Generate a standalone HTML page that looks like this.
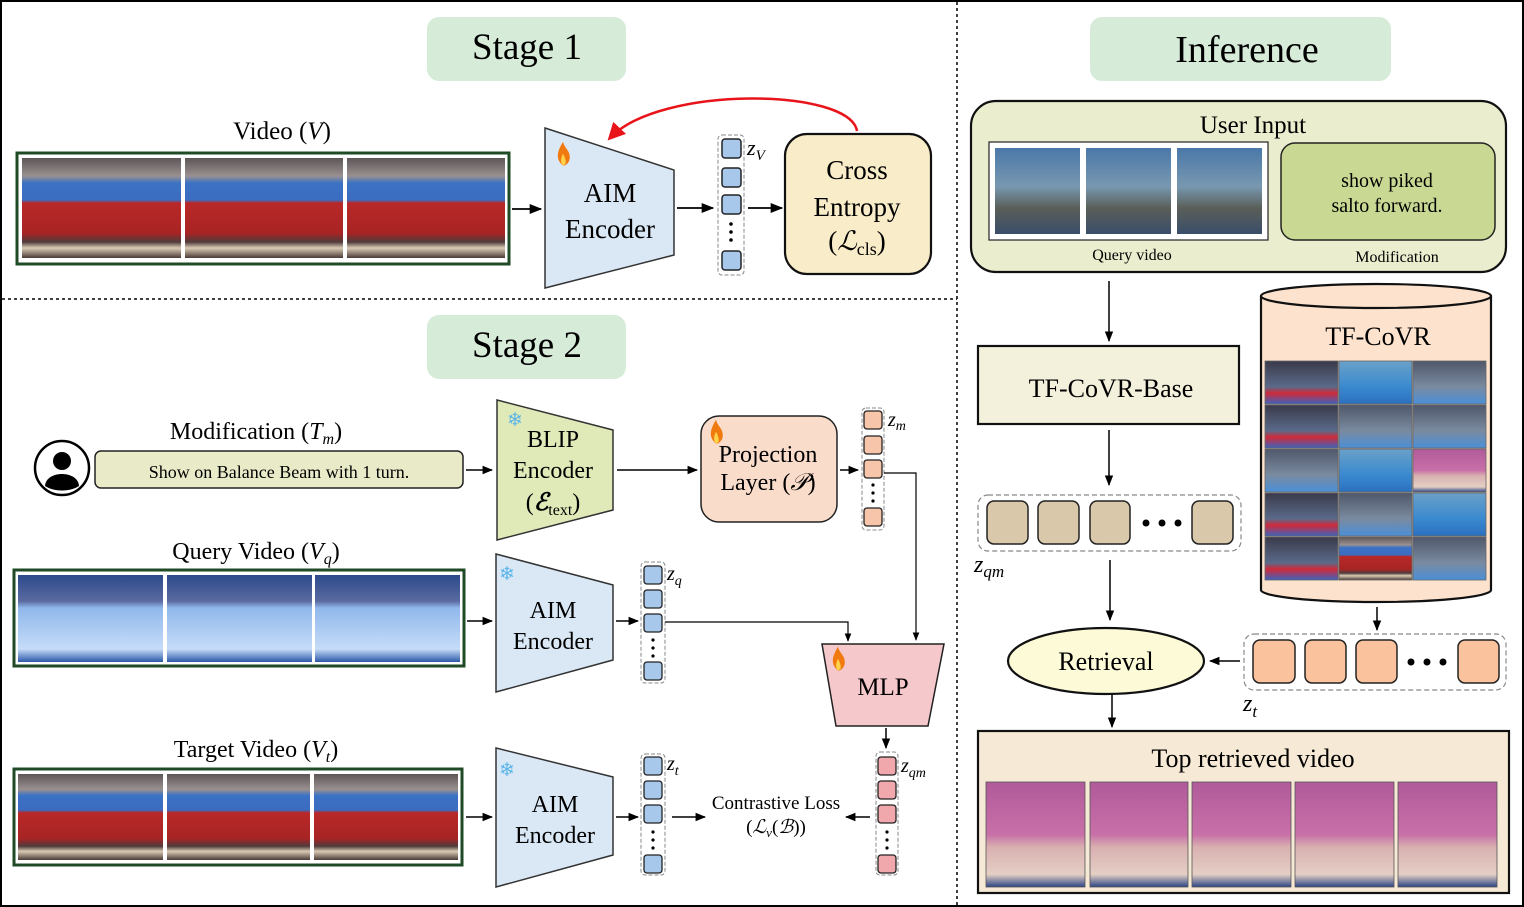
<!DOCTYPE html>
<html><head><meta charset="utf-8"><style>
html,body{margin:0;padding:0;background:#fff;}
svg{display:block;font-family:"Liberation Serif","DejaVu Serif",serif;}
</style></head><body>
<svg width="1524" height="907" viewBox="0 0 1524 907" xmlns="http://www.w3.org/2000/svg">
<defs>
<marker id="ar" viewBox="0 0 10 10" refX="9" refY="5" markerWidth="7" markerHeight="7" orient="auto"><path d="M0,1 L10,5 L0,9 z" fill="#000"/></marker>
<marker id="arr" viewBox="0 0 10 10" refX="8" refY="5" markerWidth="7" markerHeight="7" orient="auto"><path d="M0,0 L10,5 L0,10 z" fill="#e8141a"/></marker>
<linearGradient id="beam" x1="0" y1="0" x2="0" y2="1"><stop offset="0" stop-color="#5d5658"/><stop offset=".18" stop-color="#9a9090"/><stop offset=".25" stop-color="#3b72c4"/><stop offset=".42" stop-color="#3b6cc0"/><stop offset=".45" stop-color="#b92828"/><stop offset=".75" stop-color="#a82424"/><stop offset=".84" stop-color="#503c3c"/><stop offset=".9" stop-color="#d9cbb4"/><stop offset="1" stop-color="#4a3a36"/></linearGradient>
<linearGradient id="floor" x1="0" y1="0" x2="0" y2="1"><stop offset="0" stop-color="#2c4a8c"/><stop offset=".3" stop-color="#5a6aa0"/><stop offset=".38" stop-color="#90b8ec"/><stop offset=".85" stop-color="#c6dcf8"/><stop offset="1" stop-color="#2b58a8"/></linearGradient>
<linearGradient id="dive" x1="0" y1="0" x2="0" y2="1"><stop offset="0" stop-color="#4a78a8"/><stop offset=".45" stop-color="#7898b0"/><stop offset=".7" stop-color="#5a5e58"/><stop offset="1" stop-color="#3a4e6a"/></linearGradient>
<linearGradient id="pink" x1="0" y1="0" x2="0" y2="1"><stop offset="0" stop-color="#b05a9a"/><stop offset=".5" stop-color="#c870a8"/><stop offset=".62" stop-color="#d8b0b0"/><stop offset=".88" stop-color="#e4cfc4"/><stop offset="1" stop-color="#2c4486"/></linearGradient>
<linearGradient id="g2" x1="0" y1="0" x2="0" y2="1"><stop offset="0" stop-color="#3a3a4a"/><stop offset=".6" stop-color="#5a6a8a"/><stop offset=".75" stop-color="#d02a3a"/><stop offset="1" stop-color="#3a64c0"/></linearGradient>
<linearGradient id="g3" x1="0" y1="0" x2="0" y2="1"><stop offset="0" stop-color="#6aa0c8"/><stop offset=".6" stop-color="#3a8ad0"/><stop offset="1" stop-color="#2a70c0"/></linearGradient>
<linearGradient id="g4" x1="0" y1="0" x2="0" y2="1"><stop offset="0" stop-color="#50586a"/><stop offset=".6" stop-color="#7a8aa0"/><stop offset="1" stop-color="#4a90d8"/></linearGradient>
<g id="fire"><g transform="scale(1.7)"><path d="M0,8 C-5,4 -3,-1 0,-6 C1,-2 4,-1 4,3 C4,6 2,8 0,8 z" fill="#f07a10"/><path d="M0,8 C-2,6 -1,3 0,1 C1,3 2,5 1.5,7 z" fill="#ffd24a"/></g></g>
</defs>

<rect x="1" y="1" width="1522" height="905" fill="#fff" stroke="#000" stroke-width="2"/>
<line x1="957" y1="2" x2="957" y2="905" stroke="#000" stroke-width="1.5" stroke-dasharray="3,3"/>
<line x1="2" y1="299" x2="957" y2="299" stroke="#000" stroke-width="1.5" stroke-dasharray="3,3"/>

<rect x="427" y="17" width="199" height="64" rx="12" fill="#d7ebd9"/>
<text x="527" y="59" font-size="37" text-anchor="middle">Stage 1</text>
<text x="282" y="139" font-size="25" text-anchor="middle">Video (<tspan font-style="italic">V</tspan>)</text>
<rect x="17" y="153" width="492" height="111" fill="#fff" stroke="#1f4a26" stroke-width="3"/>
<rect x="22" y="158" width="159" height="100" fill="url(#beam)"/>
<rect x="185" y="158" width="158" height="100" fill="url(#beam)"/>
<rect x="347" y="158" width="158" height="100" fill="url(#beam)"/>
<line x1="512" y1="209" x2="541" y2="209" stroke="#000" stroke-width="1.8" marker-end="url(#ar)"/>
<polygon points="545,128 674,170 674,255 545,288" fill="#dae8f6" stroke="#333" stroke-width="1.5"/>
<use href="#fire" x="563" y="152"/>
<text x="610" y="202" font-size="27" text-anchor="middle">AIM</text>
<text x="610" y="238" font-size="27" text-anchor="middle">Encoder</text>
<line x1="677" y1="208" x2="713" y2="208" stroke="#000" stroke-width="1.8" marker-end="url(#ar)"/>
<rect x="718" y="135" width="26" height="140" rx="4" fill="none" stroke="#888" stroke-dasharray="4,2"/>
<g fill="#a7c8ea" stroke="#222" stroke-width="1.5">
<rect x="722" y="139" width="19" height="19" rx="3"/><rect x="722" y="168" width="19" height="19" rx="3"/><rect x="722" y="195" width="19" height="19" rx="3"/><rect x="722" y="251" width="19" height="19" rx="3"/></g>
<g fill="#000"><circle cx="731" cy="224" r="1.8"/><circle cx="731" cy="232" r="1.8"/><circle cx="731" cy="240" r="1.8"/></g>
<text x="747" y="155" font-size="22" font-style="italic">z<tspan font-size="15" dy="5">V</tspan></text>
<line x1="748" y1="208" x2="782" y2="208" stroke="#000" stroke-width="1.8" marker-end="url(#ar)"/>
<rect x="785" y="134" width="146" height="140" rx="22" fill="#f9ecc9" stroke="#111" stroke-width="2.2"/>
<text x="857" y="179" font-size="27" text-anchor="middle">Cross</text>
<text x="857" y="216" font-size="27" text-anchor="middle">Entropy</text>
<text x="857" y="250" font-size="27" text-anchor="middle">(<tspan font-style="italic">ℒ</tspan><tspan font-size="18" dy="5">cls</tspan><tspan dy="-5">)</tspan></text>
<path d="M857,131 C850,88 660,85 610,138" fill="none" stroke="#e8141a" stroke-width="2.5" marker-end="url(#arr)"/>

<rect x="427" y="315" width="199" height="64" rx="12" fill="#d7ebd9"/>
<text x="527" y="357" font-size="37" text-anchor="middle">Stage 2</text>
<text x="256" y="439" font-size="24" text-anchor="middle">Modification (<tspan font-style="italic">T</tspan><tspan font-style="italic" font-size="16" dy="5">m</tspan><tspan dy="-5">)</tspan></text>
<circle cx="62" cy="468" r="27" fill="#fff" stroke="#000" stroke-width="2.5"/>
<circle cx="62" cy="461" r="9" fill="#000"/>
<path d="M45,486 C46,470 78,470 79,486 C70,492 54,492 45,486 z" fill="#000"/>
<rect x="95" y="451" width="368" height="37" rx="6" fill="#e9ebc8" stroke="#222" stroke-width="1.5"/>
<text x="279" y="478" font-size="18" text-anchor="middle">Show on Balance Beam with 1 turn.</text>
<line x1="466" y1="470" x2="492" y2="470" stroke="#000" stroke-width="1.5" marker-end="url(#ar)"/>
<polygon points="497,400 613,430 613,510 497,540" fill="#e0eab9" stroke="#333" stroke-width="1.5"/>
<text x="507" y="426" font-size="19" fill="#5ab4e8">❄</text>
<text x="553" y="447" font-size="24" text-anchor="middle">BLIP</text>
<text x="553" y="478" font-size="24" text-anchor="middle">Encoder</text>
<text x="553" y="510" font-size="24" text-anchor="middle">(<tspan font-style="italic" font-weight="bold">ℰ</tspan><tspan font-size="16" dy="5">text</tspan><tspan dy="-5">)</tspan></text>
<line x1="617" y1="470" x2="697" y2="470" stroke="#000" stroke-width="1.5" marker-end="url(#ar)"/>
<rect x="701" y="416" width="136" height="106" rx="18" fill="#fadccb" stroke="#222" stroke-width="1.5"/>
<use href="#fire" x="716" y="430"/>
<text x="768" y="462" font-size="24" text-anchor="middle">Projection</text>
<text x="768" y="490" font-size="24" text-anchor="middle">Layer (<tspan font-style="italic">𝒫</tspan>)</text>
<line x1="840" y1="470" x2="858" y2="470" stroke="#000" stroke-width="1.5" marker-end="url(#ar)"/>
<rect x="862" y="408" width="22" height="122" rx="4" fill="none" stroke="#888" stroke-dasharray="4,2"/>
<g fill="#f7c6aa" stroke="#222" stroke-width="1.3">
<rect x="864" y="411" width="18" height="18" rx="3"/><rect x="864" y="436" width="18" height="18" rx="3"/><rect x="864" y="460" width="18" height="18" rx="3"/><rect x="864" y="508" width="18" height="18" rx="3"/></g>
<g fill="#000"><circle cx="873" cy="485" r="1.6"/><circle cx="873" cy="493" r="1.6"/><circle cx="873" cy="501" r="1.6"/></g>
<text x="888" y="426" font-size="20" font-style="italic">z<tspan font-size="14" dy="4">m</tspan></text>
<polyline points="884,473 916,473 916,640" fill="none" stroke="#000" stroke-width="1.2" marker-end="url(#ar)"/>

<text x="256" y="559" font-size="24" text-anchor="middle">Query Video (<tspan font-style="italic">V</tspan><tspan font-style="italic" font-size="16" dy="5">q</tspan><tspan dy="-5">)</tspan></text>
<rect x="14" y="570" width="450" height="96" fill="#fff" stroke="#1f4a26" stroke-width="3"/>
<rect x="18" y="575" width="145" height="87" fill="url(#floor)"/>
<rect x="167" y="575" width="145" height="87" fill="url(#floor)"/>
<rect x="315" y="575" width="145" height="87" fill="url(#floor)"/>
<line x1="467" y1="621" x2="492" y2="621" stroke="#000" stroke-width="1.5" marker-end="url(#ar)"/>
<polygon points="496,554 613,585 613,660 496,692" fill="#dae8f6" stroke="#333" stroke-width="1.5"/>
<text x="499" y="580" font-size="19" fill="#5ab4e8">❄</text>
<text x="553" y="618" font-size="24" text-anchor="middle">AIM</text>
<text x="553" y="649" font-size="24" text-anchor="middle">Encoder</text>
<line x1="616" y1="621" x2="638" y2="621" stroke="#000" stroke-width="1.5" marker-end="url(#ar)"/>
<rect x="641" y="562" width="24" height="121" rx="4" fill="none" stroke="#888" stroke-dasharray="4,2"/>
<g fill="#a7c8ea" stroke="#222" stroke-width="1.3">
<rect x="644" y="566" width="18" height="18" rx="3"/><rect x="644" y="590" width="18" height="18" rx="3"/><rect x="644" y="614" width="18" height="18" rx="3"/><rect x="644" y="662" width="18" height="18" rx="3"/></g>
<g fill="#000"><circle cx="653" cy="640" r="1.6"/><circle cx="653" cy="648" r="1.6"/><circle cx="653" cy="656" r="1.6"/></g>
<text x="667" y="580" font-size="20" font-style="italic">z<tspan font-size="14" dy="5">q</tspan></text>
<polyline points="665,622 848,622 848,641" fill="none" stroke="#000" stroke-width="1.2" marker-end="url(#ar)"/>
<polygon points="822,644 944,644 928,726 836,726" fill="#f5c8cc" stroke="#222" stroke-width="1.5"/>
<use href="#fire" x="838" y="657"/>
<text x="883" y="695" font-size="25" text-anchor="middle">MLP</text>
<line x1="886" y1="728" x2="886" y2="748" stroke="#000" stroke-width="1.5" marker-end="url(#ar)"/>

<text x="256" y="757" font-size="24" text-anchor="middle">Target Video (<tspan font-style="italic">V</tspan><tspan font-style="italic" font-size="16" dy="5">t</tspan><tspan dy="-5">)</tspan></text>
<rect x="14" y="769" width="448" height="96" fill="#fff" stroke="#1f4a26" stroke-width="3"/>
<rect x="18" y="774" width="145" height="86" fill="url(#beam)"/>
<rect x="167" y="774" width="143" height="86" fill="url(#beam)"/>
<rect x="314" y="774" width="144" height="86" fill="url(#beam)"/>
<line x1="466" y1="817" x2="492" y2="817" stroke="#000" stroke-width="1.5" marker-end="url(#ar)"/>
<polygon points="496,748 613,777 613,855 496,887" fill="#dae8f6" stroke="#333" stroke-width="1.5"/>
<text x="499" y="776" font-size="19" fill="#5ab4e8">❄</text>
<text x="555" y="812" font-size="24" text-anchor="middle">AIM</text>
<text x="555" y="843" font-size="24" text-anchor="middle">Encoder</text>
<line x1="616" y1="817" x2="638" y2="817" stroke="#000" stroke-width="1.5" marker-end="url(#ar)"/>
<rect x="641" y="754" width="24" height="121" rx="4" fill="none" stroke="#888" stroke-dasharray="4,2"/>
<g fill="#a7c8ea" stroke="#222" stroke-width="1.3">
<rect x="644" y="757" width="18" height="18" rx="3"/><rect x="644" y="781" width="18" height="18" rx="3"/><rect x="644" y="805" width="18" height="18" rx="3"/><rect x="644" y="855" width="18" height="18" rx="3"/></g>
<g fill="#000"><circle cx="653" cy="832" r="1.6"/><circle cx="653" cy="840" r="1.6"/><circle cx="653" cy="848" r="1.6"/></g>
<text x="667" y="770" font-size="20" font-style="italic">z<tspan font-size="14" dy="5">t</tspan></text>
<line x1="672" y1="817" x2="705" y2="817" stroke="#000" stroke-width="1.5" marker-end="url(#ar)"/>
<text x="776" y="809" font-size="19" text-anchor="middle">Contrastive Loss</text>
<text x="776" y="833" font-size="19" text-anchor="middle">(<tspan font-style="italic">ℒ</tspan><tspan font-style="italic" font-size="13" dy="4">v</tspan><tspan dy="-4">(</tspan><tspan font-style="italic">ℬ</tspan>))</text>
<line x1="870" y1="817" x2="846" y2="817" stroke="#000" stroke-width="1.5" marker-end="url(#ar)"/>
<rect x="876" y="752" width="22" height="123" rx="4" fill="none" stroke="#888" stroke-dasharray="4,2"/>
<g fill="#f0a8ac" stroke="#222" stroke-width="1.3">
<rect x="878" y="757" width="18" height="18" rx="3"/><rect x="878" y="781" width="18" height="18" rx="3"/><rect x="878" y="805" width="18" height="18" rx="3"/><rect x="878" y="855" width="18" height="18" rx="3"/></g>
<g fill="#000"><circle cx="887" cy="832" r="1.6"/><circle cx="887" cy="840" r="1.6"/><circle cx="887" cy="848" r="1.6"/></g>
<text x="901" y="772" font-size="20" font-style="italic">z<tspan font-size="14" dy="5">qm</tspan></text>

<rect x="1090" y="17" width="301" height="64" rx="12" fill="#d7ebd9"/>
<text x="1247" y="62" font-size="38" text-anchor="middle">Inference</text>
<rect x="971" y="101" width="535" height="171" rx="25" fill="#eaedce" stroke="#111" stroke-width="2.2"/>
<text x="1253" y="133" font-size="25" text-anchor="middle">User Input</text>
<rect x="989" y="142" width="279" height="98" fill="#fff" stroke="#222" stroke-width="1.2"/>
<rect x="995" y="148" width="85" height="86" fill="url(#dive)"/>
<rect x="1086" y="148" width="85" height="86" fill="url(#dive)"/>
<rect x="1177" y="148" width="85" height="86" fill="url(#dive)"/>
<text x="1132" y="260" font-size="16" text-anchor="middle">Query video</text>
<rect x="1281" y="143" width="214" height="97" rx="14" fill="#c9d893" stroke="#222" stroke-width="1.5"/>
<text x="1387" y="187" font-size="20" text-anchor="middle">show piked</text>
<text x="1387" y="212" font-size="20" text-anchor="middle">salto forward.</text>
<text x="1397" y="262" font-size="16" text-anchor="middle">Modification</text>
<line x1="1109" y1="281" x2="1109" y2="341" stroke="#000" stroke-width="1.5" marker-end="url(#ar)"/>
<rect x="978" y="346" width="261" height="78" fill="#f3f1dc" stroke="#111" stroke-width="2.2"/>
<text x="1111" y="397" font-size="26" text-anchor="middle">TF-CoVR-Base</text>
<line x1="1109" y1="430" x2="1109" y2="485" stroke="#000" stroke-width="1.5" marker-end="url(#ar)"/>
<rect x="978" y="495" width="263" height="56" rx="10" fill="none" stroke="#888" stroke-width="1.2" stroke-dasharray="5,3"/>
<g fill="#d9c9aa" stroke="#222" stroke-width="1.5">
<rect x="987" y="501" width="41" height="43" rx="7"/><rect x="1038" y="501" width="41" height="43" rx="7"/><rect x="1090" y="501" width="40" height="43" rx="7"/><rect x="1192" y="501" width="41" height="43" rx="7"/></g>
<g fill="#000"><circle cx="1146" cy="523" r="3.5"/><circle cx="1162" cy="523" r="3.5"/><circle cx="1178" cy="523" r="3.5"/></g>
<text x="974" y="572" font-size="24" font-style="italic">z<tspan font-size="17" dy="5">qm</tspan></text>
<line x1="1110" y1="560" x2="1110" y2="620" stroke="#000" stroke-width="1.5" marker-end="url(#ar)"/>
<ellipse cx="1106" cy="661" rx="98" ry="33" fill="#fdfad8" stroke="#111" stroke-width="2.2"/>
<text x="1106" y="670" font-size="26" text-anchor="middle">Retrieval</text>
<line x1="1240" y1="661" x2="1210" y2="661" stroke="#000" stroke-width="1.5" marker-end="url(#ar)"/>
<path d="M1261,296 L1261,590 A115,12 0 0 0 1491,590 L1491,296" fill="#fde2cd" stroke="#111" stroke-width="2.2"/>
<ellipse cx="1376" cy="296" rx="115" ry="12" fill="#fde2cd" stroke="#111" stroke-width="2.2"/>
<text x="1378" y="345" font-size="26" text-anchor="middle">TF-CoVR</text>
<g stroke="#666" stroke-width="0.8">
<rect x="1265" y="361" width="73" height="43" fill="url(#g2)"/><rect x="1339" y="361" width="73" height="43" fill="url(#g3)"/><rect x="1413" y="361" width="73" height="43" fill="url(#g4)"/>
<rect x="1265" y="405" width="73" height="43" fill="url(#g2)"/><rect x="1339" y="405" width="73" height="43" fill="url(#g4)"/><rect x="1413" y="405" width="73" height="43" fill="url(#g4)"/>
<rect x="1265" y="449" width="73" height="43" fill="url(#g4)"/><rect x="1339" y="449" width="73" height="43" fill="url(#g3)"/><rect x="1413" y="449" width="73" height="43" fill="url(#pink)"/>
<rect x="1265" y="493" width="73" height="43" fill="url(#g2)"/><rect x="1339" y="493" width="73" height="43" fill="url(#g4)"/><rect x="1413" y="493" width="73" height="43" fill="url(#g3)"/>
<rect x="1265" y="537" width="73" height="43" fill="url(#g2)"/><rect x="1339" y="537" width="73" height="43" fill="url(#beam)"/><rect x="1413" y="537" width="73" height="43" fill="url(#g4)"/>
</g>
<line x1="1377" y1="607" x2="1377" y2="630" stroke="#000" stroke-width="1.5" marker-end="url(#ar)"/>
<rect x="1244" y="634" width="262" height="56" rx="10" fill="none" stroke="#888" stroke-width="1.2" stroke-dasharray="5,3"/>
<g fill="#fbc29e" stroke="#222" stroke-width="1.5">
<rect x="1253" y="640" width="42" height="43" rx="7"/><rect x="1305" y="640" width="41" height="43" rx="7"/><rect x="1356" y="640" width="41" height="43" rx="7"/><rect x="1458" y="640" width="41" height="43" rx="7"/></g>
<g fill="#000"><circle cx="1411" cy="662" r="3.5"/><circle cx="1427" cy="662" r="3.5"/><circle cx="1443" cy="662" r="3.5"/></g>
<text x="1243" y="711" font-size="24" font-style="italic">z<tspan font-size="17" dy="6">t</tspan></text>
<line x1="1112" y1="695" x2="1112" y2="727" stroke="#000" stroke-width="1.5" marker-end="url(#ar)"/>
<rect x="978" y="731" width="531" height="162" fill="#f6e9d6" stroke="#111" stroke-width="2.2"/>
<text x="1253" y="767" font-size="26" text-anchor="middle">Top retrieved video</text>
<g stroke="#555" stroke-width="0.8">
<rect x="986" y="782" width="99" height="105" fill="url(#pink)"/>
<rect x="1090" y="782" width="98" height="105" fill="url(#pink)"/>
<rect x="1192" y="782" width="99" height="105" fill="url(#pink)"/>
<rect x="1295" y="782" width="99" height="105" fill="url(#pink)"/>
<rect x="1398" y="782" width="99" height="105" fill="url(#pink)"/>
</g>
</svg>
</body></html>
